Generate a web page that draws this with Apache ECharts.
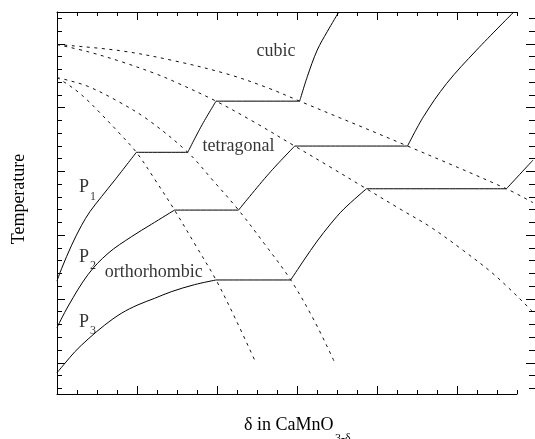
<!DOCTYPE html>
<html>
<head>
<meta charset="utf-8">
<script src="https://cdn.jsdelivr.net/npm/echarts@6/dist/echarts.min.js"></script>
<style>
  html, body { margin: 0; padding: 0; background: #fff; }
  #chart { width: 535px; height: 439px; }
</style>
</head>
<body>
<div id="chart"></div>
<script>
// Schematic phase diagram of CaMnO3-δ: temperature against oxygen deficiency δ.
// Axis units are arbitrary (one unit per minor tick).
const X_MIN = 0, X_FRAME_MAX = 23, X_DATA_MAX = 24;
const Y_MIN = -2.45, Y_MAX = 27.5;

const xMinorTicks = [1, 2, 3, 4, 5, 6, 7, 8, 9, 10, 11, 12, 13, 14, 15, 16, 17, 18, 19, 20, 21, 22, 23];
const xMajorTicks = [4, 8, 12, 16, 20];
const yMinorTicks = [-2, -1, 0, 1, 2, 3, 4, 5, 6, 7, 8, 9, 10, 11, 12, 13, 14, 15, 16, 17, 18, 19, 20, 21, 22, 23, 24, 25, 26, 27];
const yMajorTicks = [0, 5, 10, 15, 20, 25];

// Isobars P1, P2, P3: rising branches; the flat plateaus join the end of one branch to the start of the next
const p1Rises = [
  [[0, 6.41], [0.235, 7.4], [0.735, 9.22], [1.235, 10.78], [1.65, 11.84], [2.235, 13.02], [2.9, 14.32], [3.985, 16.5]],
  [[6.565, 16.5], [7.25, 18.56], [7.985, 20.51]],
  [[12.185, 20.51], [12.565, 22.42], [13.065, 24.51], [13.565, 25.95], [14.15, 27.5]]
];
const p2Rises = [
  [[0, 2.75], [0.565, 4.45], [1.565, 6.93], [2.565, 8.58], [3.735, 9.88], [4.735, 10.85], [5.9, 11.97]],
  [[9.115, 11.97], [10.65, 14.85], [11.935, 16.99]],
  [[17.6, 16.99], [18.4, 19.29], [19.565, 21.9], [21.065, 24.51], [22.935, 27.5]]
];
const p3Rises = [
  [[0, -0.78], [0.4, -0.04], [0.9, 0.87], [1.565, 1.86], [2.4, 2.96], [3.235, 3.88], [4.065, 4.54], [4.9, 5.05], [5.735, 5.57], [6.9, 6.12], [7.985, 6.49]],
  [[11.735, 6.49], [12.4, 8.05], [13.065, 9.54], [13.735, 10.88], [14.4, 12.05], [15.535, 13.64]],
  [[22.565, 13.64], [23.9, 15.89]]
];

// Phase limits (dashed)
const limitA = [[0, 24.95], [3.15, 24.47], [5.9, 23.67], [8.65, 22.59], [10.65, 21.51], [12.185, 20.51], [17.6, 16.99], [22.565, 13.64], [23.9, 12.55]];
const limitB = [[0, 24.95], [1.565, 24.38], [3.235, 23.6], [4.9, 22.69], [5.9, 22.04], [7.985, 20.51], [9.9, 18.87], [11.935, 16.99], [13.65, 15.41], [15.535, 13.64], [17.315, 11.97], [18.735, 10.66], [20.4, 8.8], [22.065, 6.75], [23.9, 3.98]];
const limitC = [[0, 22.36], [0.55, 21.81], [1.05, 21.24], [1.55, 20.55], [2.15, 19.61], [3.05, 18.13], [3.985, 16.5], [4.9, 14.4], [5.9, 11.97], [6.95, 9.23], [7.985, 6.49], [9.0, 3.31], [9.985, 0]];
const limitD = [[0, 22.36], [0.55, 22.15], [1.55, 21.67], [3.0, 20.55], [4.55, 19.07], [6.565, 16.5], [7.815, 14.32], [9.115, 11.97], [10.4, 9.36], [11.735, 6.49], [12.9, 3.35], [13.95, 0]];

// Annotations
const regionNames = ['cubic', 'tetragonal', 'orthorhombic'];
const regionAt = [[11.0, 24.43], [9.11, 16.99], [4.86, 7.09]];
const isobarSubs = ['1', '2', '3'];
const isobarAt = [[1.1, 13.75], [1.1, 8.27], [1.1, 3.17]];

const SERIF = '"Liberation Serif", "DejaVu Serif", serif';

function solidLine(data) {
  return {
    type: 'line', data: data, smooth: 0.35, symbol: 'none', silent: true,
    xAxisIndex: 0, yAxisIndex: 0,
    lineStyle: { color: '#000', width: 1 }
  };
}
function dashedLine(data) {
  return {
    type: 'line', data: data, smooth: 0.35, symbol: 'none', silent: true,
    xAxisIndex: 0, yAxisIndex: 0,
    lineStyle: { color: '#111', width: 1, type: [3, 4.5] }
  };
}
function isobarSeries(rises) {
  const out = [];
  rises.forEach(function (r, i) {
    out.push(solidLine(r));
    if (i + 1 < rises.length) {
      out.push(solidLine([r[r.length - 1], rises[i + 1][0]]));
    }
  });
  return out;
}

function hiddenAxis(min, max, grid) {
  return {
    type: 'value', gridIndex: grid, min: min, max: max,
    axisLine: { show: false }, axisTick: { show: false }, axisLabel: { show: false }, splitLine: { show: false }
  };
}
function tickAxis(pos, min, max, grid, ticks, len, showLine) {
  return {
    type: 'value', gridIndex: grid, position: pos, min: min, max: max,
    axisLine: { show: showLine, onZero: false, lineStyle: { color: '#000', width: 1 } },
    axisTick: { show: true, inside: true, length: len, customValues: ticks, lineStyle: { color: '#000', width: 1 } },
    axisLabel: { show: false }, splitLine: { show: false }
  };
}

const series = []
  .concat(isobarSeries(p1Rises))
  .concat(isobarSeries(p2Rises))
  .concat(isobarSeries(p3Rises))
  .concat([limitA, limitB, limitC, limitD].map(dashedLine));

series.push({
  type: 'scatter', symbolSize: 0, silent: true, xAxisIndex: 0, yAxisIndex: 0,
  data: regionAt.map(function (p, i) { return { value: p, label: { formatter: regionNames[i] } }; }),
  label: { show: true, position: 'inside', color: '#000', fontFamily: SERIF, fontSize: 18 }
});
series.push({
  type: 'scatter', symbolSize: 0, silent: true, xAxisIndex: 0, yAxisIndex: 0,
  data: isobarAt.map(function (p) { return { value: p, label: { formatter: 'P' } }; }),
  label: { show: true, position: [0, 0], align: 'left', verticalAlign: 'middle', color: '#000', fontFamily: SERIF, fontSize: 18 }
});
series.push({
  type: 'scatter', symbolSize: 0, silent: true, xAxisIndex: 0, yAxisIndex: 0,
  data: isobarAt.map(function (p, i) { return { value: p, label: { formatter: isobarSubs[i] } }; }),
  label: { show: true, position: [11, 9], align: 'left', verticalAlign: 'middle', color: '#000', fontFamily: SERIF, fontSize: 12 }
});

const chart = echarts.init(document.getElementById('chart'), null, { renderer: 'canvas' });
chart.setOption({
  animation: false,
  backgroundColor: '#fff',
  grid: [
    // plotting area: the curves run on past the end of the drawn axis
    { left: 57, right: -2, top: 12, bottom: 45 },
    // axis frame
    { left: 57, right: 18, top: 12, bottom: 45 }
  ],
  xAxis: [
    hiddenAxis(X_MIN, X_DATA_MAX, 0),
    tickAxis('bottom', X_MIN, X_FRAME_MAX, 1, xMinorTicks, 4, true),
    tickAxis('bottom', X_MIN, X_FRAME_MAX, 1, xMajorTicks, 8, false),
    tickAxis('top', X_MIN, X_FRAME_MAX, 1, xMinorTicks, 4, true),
    tickAxis('top', X_MIN, X_FRAME_MAX, 1, xMajorTicks, 8, false)
  ],
  yAxis: [
    hiddenAxis(Y_MIN, Y_MAX, 0),
    tickAxis('left', Y_MIN, Y_MAX, 1, yMinorTicks, 5, true),
    tickAxis('left', Y_MIN, Y_MAX, 1, yMajorTicks, 8, false),
    tickAxis('right', Y_MIN, Y_MAX, 0, yMinorTicks, 6, false),
    tickAxis('right', Y_MIN, Y_MAX, 0, yMajorTicks, 9, false)
  ],
  graphic: [
    {
      type: 'text', x: 19.5, y: 199, rotation: Math.PI / 2, silent: true,
      style: { text: 'Temperature', fill: '#000', font: '18px ' + SERIF, align: 'center', verticalAlign: 'middle' }
    },
    {
      type: 'text', x: 333.5, y: 425.6, silent: true,
      style: { text: 'δ in CaMnO', fill: '#000', font: '18px ' + SERIF, align: 'right', verticalAlign: 'middle' }
    },
    {
      type: 'text', x: 335, y: 438.5, silent: true,
      style: { text: '3-δ', fill: '#000', font: '12px ' + SERIF, align: 'left', verticalAlign: 'middle' }
    }
  ],
  series: series
});
</script>
</body>
</html>
